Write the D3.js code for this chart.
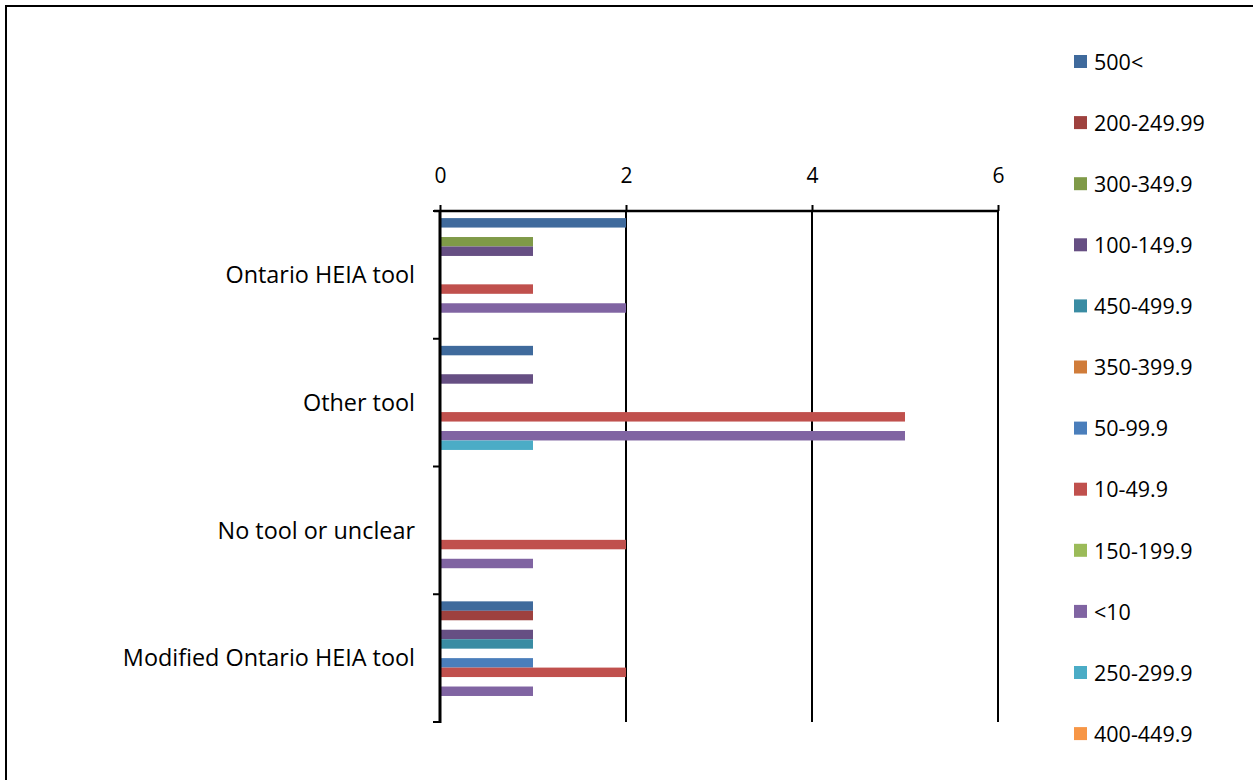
<!DOCTYPE html>
<html>
<head>
<meta charset="utf-8">
<script src="https://cdn.jsdelivr.net/npm/d3@7"></script>
<style>
  html, body { margin: 0; padding: 0; background: #fff; }
  svg { display: block; font-family: "Open Sans", Lato, sans-serif; }
</style>
</head>
<body>
<svg id="chart" width="1253" height="780"></svg>
<script>
// Tool categories (top to bottom) and size-class series (legend order)
const categories = ["Ontario HEIA tool", "Other tool", "No tool or unclear", "Modified Ontario HEIA tool"];
const seriesNames = ["500<", "200-249.99", "300-349.9", "100-149.9", "450-499.9", "350-399.9",
                     "50-99.9", "10-49.9", "150-199.9", "<10", "250-299.9", "400-449.9"];
const seriesColors = ["#3F6A9C", "#9E413E", "#7F9A48", "#664F83", "#3A8CA3", "#D07C3A",
                      "#4A7EBB", "#C0504D", "#9BBB59", "#8064A2", "#4BACC6", "#F79646"];
// Counts per series, one value per category
const values = [
  [2, 1, 0, 1],   // 500<
  [0, 0, 0, 1],   // 200-249.99
  [1, 0, 0, 0],   // 300-349.9
  [1, 1, 0, 1],   // 100-149.9
  [0, 0, 0, 1],   // 450-499.9
  [0, 0, 0, 0],   // 350-399.9
  [0, 0, 0, 1],   // 50-99.9
  [1, 5, 2, 2],   // 10-49.9
  [0, 0, 0, 0],   // 150-199.9
  [2, 5, 1, 1],   // <10
  [0, 1, 0, 0],   // 250-299.9
  [0, 0, 0, 0]    // 400-449.9
];
const xTicks = [0, 2, 4, 6];

const svg = d3.select("#chart");

// outer frame
svg.append("rect")
  .attr("x", 6).attr("y", 6).attr("width", 1260).attr("height", 790)
  .attr("fill", "none").attr("stroke", "#000").attr("stroke-width", 2);

const plot = { left: 440, right: 998, top: 211, bottom: 722 };

const x = d3.scaleLinear().domain([0, 6]).range([plot.left, plot.right]);
const y0 = d3.scaleBand().domain(categories).range([plot.top, plot.bottom]).padding(0);
// each cluster: 12 bars plus a gap of 1.5 bar widths split around it
const y1 = d3.scaleBand().domain(seriesNames)
  .range([0, y0.bandwidth()]).paddingInner(0).paddingOuter(0.75);

// vertical gridlines
svg.append("g").selectAll("line")
  .data(xTicks.filter(d => d > 0))
  .join("line")
  .attr("x1", d => x(d)).attr("x2", d => x(d))
  .attr("y1", plot.top).attr("y2", plot.bottom)
  .attr("stroke", "#000").attr("stroke-width", 2);

// bars
const groups = svg.append("g").selectAll("g")
  .data(categories)
  .join("g")
  .attr("transform", c => `translate(0,${y0(c)})`);

groups.selectAll("rect")
  .data((c, ci) => seriesNames.map((s, si) => ({ s, si, v: values[si][ci] })).filter(d => d.v > 0))
  .join("rect")
  .attr("x", x(0) + 1)
  .attr("y", d => y1(d.s))
  .attr("width", d => x(d.v) - x(0) - 1)
  .attr("height", y1.bandwidth())
  .attr("fill", d => seriesColors[d.si]);

// top value axis
const xAxis = d3.axisTop(x).tickValues(xTicks).tickSize(6).tickPadding(22).tickFormat(d3.format("d"));
const gx = svg.append("g").attr("transform", `translate(0,${plot.top})`).call(xAxis);
gx.select(".domain").attr("stroke", "#000").attr("stroke-width", 2.5)
  .attr("d", `M${plot.left - 6},0H${plot.right}`);
gx.selectAll(".tick line").attr("stroke", "#000").attr("stroke-width", 2);
gx.selectAll(".tick text").attr("font-size", 21).attr("fill", "#000")
  .attr("font-family", "'Open Sans', Lato, sans-serif");

// left category axis
const boundaries = categories.map(c => y0(c)).concat([plot.bottom]);
svg.append("line")
  .attr("x1", plot.left).attr("x2", plot.left)
  .attr("y1", plot.top).attr("y2", plot.bottom + 1)
  .attr("stroke", "#000").attr("stroke-width", 3);
svg.append("g").selectAll("line")
  .data(boundaries)
  .join("line")
  .attr("x1", plot.left - 7).attr("x2", plot.left)
  .attr("y1", d => d).attr("y2", d => d)
  .attr("stroke", "#000").attr("stroke-width", 2);
svg.append("g").selectAll("text")
  .data(categories)
  .join("text")
  .attr("x", 415)
  .attr("y", c => y0(c) + y0.bandwidth() / 2)
  .attr("dy", "0.35em")
  .attr("text-anchor", "end")
  .attr("font-size", 23.4)
  .attr("fill", "#000")
  .text(c => c);

// legend
const legend = svg.append("g").selectAll("g")
  .data(seriesNames)
  .join("g")
  .attr("transform", (d, i) => `translate(1074,${62 + i * 61.1})`);
legend.append("rect")
  .attr("x", 0).attr("y", -7).attr("width", 13).attr("height", 13)
  .attr("fill", (d, i) => seriesColors[i]);
legend.append("text")
  .attr("x", 20).attr("y", 0).attr("dy", "0.36em")
  .attr("font-size", 21.5).attr("fill", "#000")
  .text(d => d);
</script>
</body>
</html>
